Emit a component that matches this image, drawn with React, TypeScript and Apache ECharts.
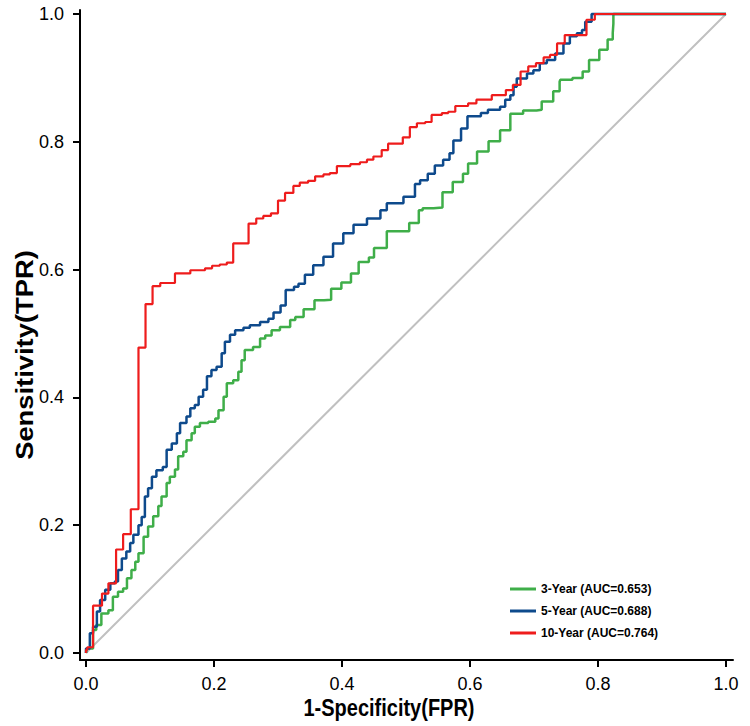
import React, { useEffect, useRef } from "react";
import * as echarts from "echarts";

const tickValues = [0, 0.2, 0.4, 0.6, 0.8, 1.0];
const seriesNames = ["3-Year (AUC=0.653)", "5-Year (AUC=0.688)", "10-Year (AUC=0.764)"];
const xTitle = "1-Specificity(FPR)";
const yTitle = "Sensitivity(TPR)";

// pixel-traced points converted to FPR/TPR
const green: [number, number][] = [
  [0, 0], [0.001, 0.007], [0.011, 0.036], [0.016, 0.044], [0.024, 0.062], [0.035, 0.067],
  [0.042, 0.088], [0.050, 0.096], [0.058, 0.101], [0.064, 0.117], [0.071, 0.130],
  [0.077, 0.143], [0.082, 0.156], [0.090, 0.182], [0.097, 0.198], [0.105, 0.214],
  [0.113, 0.230], [0.118, 0.245], [0.126, 0.266], [0.131, 0.276], [0.139, 0.287],
  [0.144, 0.308], [0.152, 0.315], [0.157, 0.333], [0.165, 0.344], [0.170, 0.354],
  [0.178, 0.360], [0.191, 0.362], [0.202, 0.367], [0.207, 0.380], [0.215, 0.401],
  [0.220, 0.422], [0.230, 0.427], [0.238, 0.440], [0.243, 0.458], [0.248, 0.474],
  [0.261, 0.479], [0.272, 0.492], [0.280, 0.497], [0.290, 0.505], [0.303, 0.510],
  [0.319, 0.521], [0.327, 0.526], [0.340, 0.538], [0.357, 0.552], [0.372, 0.553],
  [0.383, 0.570], [0.399, 0.580], [0.414, 0.594], [0.426, 0.612], [0.442, 0.619],
  [0.450, 0.634], [0.470, 0.660], [0.490, 0.660], [0.505, 0.673], [0.520, 0.693],
  [0.526, 0.696], [0.543, 0.697], [0.557, 0.721], [0.573, 0.737], [0.589, 0.750],
  [0.597, 0.766], [0.611, 0.785], [0.629, 0.801], [0.647, 0.818], [0.663, 0.844],
  [0.683, 0.849], [0.704, 0.850], [0.712, 0.863], [0.730, 0.879], [0.740, 0.894],
  [0.741, 0.897], [0.760, 0.900], [0.776, 0.910], [0.786, 0.928], [0.802, 0.944],
  [0.815, 0.960], [0.823, 0.970], [0.824, 0.985], [0.824, 1.0], [1.0, 1.0]
];

const blue: [number, number][] = [
  [0, 0], [0, 0.007], [0.006, 0.031], [0.011, 0.041], [0.017, 0.065], [0.022, 0.083],
  [0.030, 0.099], [0.038, 0.109], [0.045, 0.112], [0.050, 0.130], [0.056, 0.148],
  [0.063, 0.159], [0.069, 0.172], [0.074, 0.185], [0.082, 0.200], [0.087, 0.213],
  [0.092, 0.245], [0.097, 0.258], [0.103, 0.276], [0.110, 0.286], [0.120, 0.291],
  [0.126, 0.318], [0.134, 0.328], [0.142, 0.344], [0.147, 0.360], [0.157, 0.370],
  [0.163, 0.383], [0.170, 0.388], [0.176, 0.401], [0.183, 0.412], [0.189, 0.433],
  [0.196, 0.443], [0.204, 0.448], [0.212, 0.469], [0.217, 0.487], [0.225, 0.498],
  [0.233, 0.505], [0.246, 0.509], [0.256, 0.513], [0.272, 0.518], [0.285, 0.523],
  [0.293, 0.533], [0.304, 0.544], [0.312, 0.568], [0.325, 0.573], [0.332, 0.578],
  [0.342, 0.592], [0.355, 0.607], [0.371, 0.620], [0.386, 0.641], [0.402, 0.657],
  [0.418, 0.670], [0.439, 0.680], [0.460, 0.693], [0.470, 0.704], [0.496, 0.714],
  [0.514, 0.734], [0.522, 0.740], [0.534, 0.750], [0.545, 0.763], [0.558, 0.772],
  [0.568, 0.782], [0.574, 0.802], [0.586, 0.821], [0.596, 0.840], [0.617, 0.845],
  [0.628, 0.850], [0.647, 0.855], [0.655, 0.866], [0.663, 0.873], [0.668, 0.886],
  [0.673, 0.899], [0.689, 0.907], [0.699, 0.912], [0.709, 0.923], [0.720, 0.928],
  [0.733, 0.938], [0.746, 0.954], [0.756, 0.965], [0.767, 0.970], [0.775, 0.975],
  [0.780, 0.988], [0.790, 1.0], [1.0, 1.0]
];

const red: [number, number][] = [
  [0, 0], [0, 0.005], [0.002, 0.009], [0.011, 0.074], [0.025, 0.093], [0.035, 0.109],
  [0.047, 0.162], [0.058, 0.186], [0.070, 0.225], [0.082, 0.478], [0.093, 0.546],
  [0.104, 0.574], [0.116, 0.579], [0.139, 0.594], [0.163, 0.599], [0.186, 0.602],
  [0.197, 0.606], [0.209, 0.608], [0.220, 0.611], [0.230, 0.641], [0.254, 0.672],
  [0.266, 0.680], [0.277, 0.684], [0.289, 0.688], [0.300, 0.708], [0.311, 0.720],
  [0.324, 0.731], [0.334, 0.736], [0.347, 0.739], [0.358, 0.746], [0.371, 0.749],
  [0.381, 0.751], [0.392, 0.762], [0.413, 0.765], [0.428, 0.768], [0.439, 0.772],
  [0.449, 0.777], [0.462, 0.787], [0.472, 0.797], [0.495, 0.807], [0.506, 0.823],
  [0.517, 0.829], [0.530, 0.831], [0.540, 0.842], [0.556, 0.845], [0.566, 0.847],
  [0.577, 0.856], [0.597, 0.860], [0.610, 0.866], [0.634, 0.873], [0.656, 0.881],
  [0.667, 0.889], [0.679, 0.910], [0.691, 0.918], [0.703, 0.923], [0.715, 0.932],
  [0.725, 0.936], [0.736, 0.954], [0.748, 0.967], [0.782, 0.991], [0.795, 1.0],
  [1.0, 1.0]
];

const diagonal: [number, number][] = [[0, 0], [1, 1]];

const colors = ["#3fae49", "#0e4a8c", "#ee1c1c"];

export default function App() {
  const ref = useRef<HTMLDivElement>(null);
  useEffect(() => {
    document.body.style.margin = "0";
    if (!ref.current) return;
    const chart = echarts.init(ref.current, null, { renderer: "svg" });
    const font = "Arial, 'Liberation Sans', sans-serif";
    const axisCommon = {
      type: "value" as const,
      splitLine: { show: false },
      axisLine: { show: true, onZero: false, lineStyle: { color: "#000", width: 2 } },
      axisTick: { show: true, customValues: tickValues, length: 7, lineStyle: { color: "#000", width: 2 } },
    };
    const labelCommon = {
      customValues: tickValues,
      fontFamily: font,
      fontSize: 18,
      color: "#000",
      formatter: (v: number) => v.toFixed(1),
    };
    chart.setOption({
      animation: false,
      backgroundColor: "#fff",
      grid: { left: 80, right: 17, top: 10, bottom: 66, containLabel: false },
      legend: {
        data: seriesNames,
        orient: "vertical",
        left: 505,
        top: 578,
        icon: "rect",
        itemWidth: 26,
        itemHeight: 3,
        itemGap: 10,
        textStyle: { fontFamily: font, fontSize: 12, fontWeight: "bold", color: "#000" },
      },
      graphic: [
        {
          type: "text",
          x: 389,
          y: 708,
          scaleY: 1.22,
          style: {
            text: xTitle,
            x: 0,
            y: 0,
            align: "center",
            verticalAlign: "middle",
            fontFamily: font,
            fontSize: 20,
            fontWeight: "bold",
            fill: "#000",
          },
        },
        {
          type: "text",
          x: 25,
          y: 355,
          rotation: Math.PI / 2,
          scaleX: 1.14,
          style: {
            text: yTitle,
            x: 0,
            y: 0,
            align: "center",
            verticalAlign: "middle",
            fontFamily: font,
            fontSize: 24,
            fontWeight: "bold",
            fill: "#000",
          },
        },
      ],
      xAxis: {
        ...axisCommon,
        min: -0.009375,
        max: 1.0109,
        axisLabel: { ...labelCommon, margin: 15 },
      },
      yAxis: {
        ...axisCommon,
        min: -0.01095,
        max: 1.00626,
        axisLabel: { ...labelCommon, margin: 16 },
      },
      series: [
        {
          name: "diag",
          type: "line",
          data: diagonal,
          symbol: "none",
          lineStyle: { color: "#c0c0c0", width: 2 },
          silent: true,
        },
        {
          name: seriesNames[0],
          type: "line",
          step: "end",
          data: green,
          symbol: "none",
          color: colors[0],
          lineStyle: { color: colors[0], width: 2.5 },
        },
        {
          name: seriesNames[1],
          type: "line",
          step: "end",
          data: blue,
          symbol: "none",
          color: colors[1],
          lineStyle: { color: colors[1], width: 2.5 },
        },
        {
          name: seriesNames[2],
          type: "line",
          step: "end",
          data: red,
          symbol: "none",
          color: colors[2],
          lineStyle: { color: colors[2], width: 2.2 },
        },
      ],
    });
    return () => chart.dispose();
  }, []);
  return <div ref={ref} style={{ width: 750, height: 726 }} />;
}
